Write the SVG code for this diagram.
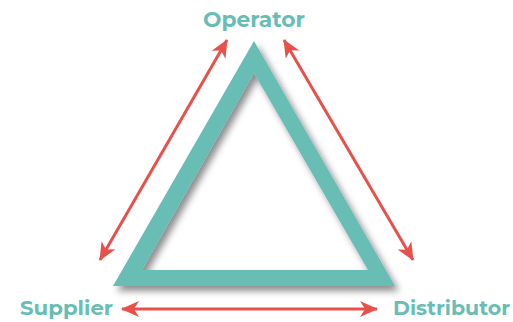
<svg xmlns="http://www.w3.org/2000/svg" width="513" height="322" viewBox="0 0 513 322">
<style>
.lbl{font-family:"Montserrat","Open Sans","Liberation Sans",sans-serif;font-weight:bold;fill:#68bdb5;}
.conn{stroke:#e8504a;stroke-width:3;fill:none;marker-start:url(#ah);marker-end:url(#ah);}
</style>
<defs>
<marker id="ah" viewBox="0 0 18 16" refX="17" refY="8" markerWidth="18" markerHeight="16" markerUnits="userSpaceOnUse" orient="auto-start-reverse">
<path d="M0,0 L18,8 L0,16 L5,8 Z" fill="#e8504a"/>
</marker>
<filter id="sh" x="-10%" y="-10%" width="130%" height="130%">
<feDropShadow dx="4" dy="5" stdDeviation="3.5" flood-color="#000" flood-opacity="0.45"/>
</filter>
</defs>
<rect width="513" height="322" fill="#fff"/>
<g id="triangle">
<path d="M254,41 L395,286 L113,286 Z M254,73 L142,270 L368,270 Z" fill="#68bdb5" fill-rule="evenodd" filter="url(#sh)"/>
</g>
<g id="operator"><text class="lbl" x="254" y="27" font-size="21" text-anchor="middle" textLength="102" lengthAdjust="spacingAndGlyphs">Operator</text></g>
<g id="supplier"><text class="lbl" x="20" y="315" font-size="20" textLength="93" lengthAdjust="spacingAndGlyphs">Supplier</text></g>
<g id="distributor"><text class="lbl" x="393" y="315" font-size="20" textLength="117" lengthAdjust="spacingAndGlyphs">Distributor</text></g>
<g id="connectors">
<line class="conn" x1="100" y1="260" x2="227" y2="40"/>
<line class="conn" x1="284" y1="40" x2="413" y2="260"/>
<line class="conn" x1="122" y1="309" x2="377" y2="309"/>
</g>
</svg>
